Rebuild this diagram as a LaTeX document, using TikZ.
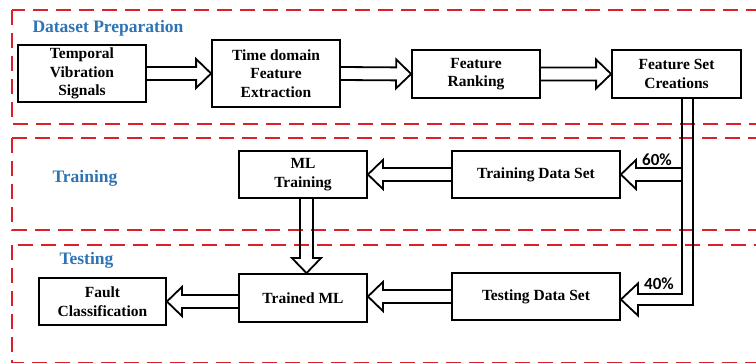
\documentclass[tikz,border=0pt]{standalone}
\usepackage{fontspec}
\setmainfont{Liberation Serif}
\newfontfamily\pctfont{Carlito}
\usetikzlibrary{calc}
\definecolor{framered}{RGB}{222,30,40}
\definecolor{secblue}{RGB}{46,116,181}
\tikzset{
  frame/.style={draw=framered, line width=2.5pt, dash pattern=on 15pt off 8pt},
  box/.style={draw, line width=1.8pt, align=center, inner sep=0pt,
    font=\fontsize{15.5}{18.5}\selectfont\bfseries},
  hollowarr/.style={draw, line width=1.8pt, line join=miter},
  sect/.style={anchor=west, text=secblue, font=\fontsize{17.5}{20}\selectfont\bfseries},
  pct/.style={font=\pctfont\fontsize{17}{18}\selectfont\bfseries}
}
\newcommand\hollow[2]{%
  \path let \p1=($(#2)-(#1)$), \n1={veclen(\x1,\y1)}, \n2={atan2(\y1,\x1)} in
    \pgfextra{\xdef\hlen{\n1}\xdef\hang{\n2}};
  \draw[hollowarr, shift={(#1)}, rotate=\hang]
    (0pt,6.5pt) -- ({\hlen-15pt},6.5pt) -- ({\hlen-15pt},14.5pt) -- ({\hlen},0pt)
    -- ({\hlen-15pt},-14.5pt) -- ({\hlen-15pt},-6.5pt) -- (0pt,-6.5pt);
}
\begin{document}
\begin{tikzpicture}[x=1pt,y=-1pt]
\useasboundingbox (0,0) rectangle (756,363);
\clip (0,0) rectangle (756,363);
% frames
\draw[frame] (12,10) rectangle (790,124);
\draw[frame] (12,138) rectangle (790,230);
\draw[frame] (12,245) rectangle (790,363);
% section labels
\node[sect] (s1) at (29,28) {Dataset Preparation};
\node[sect] (s2) at (49,178) {Training};
\node[sect] (s3) at (56,260) {Testing};
% boxes
\node[box, minimum width=128pt, minimum height=57pt] (tvs) at (82,73.5) {Temporal\\Vibration\\Signals};
\node[box, minimum width=128pt, minimum height=67pt] (tdf) at (276,73.5) {Time domain\\Feature\\Extraction};
\node[box, minimum width=128pt, minimum height=48pt] (fr) at (476,74) {Feature\\Ranking};
\node[box, minimum width=129pt, minimum height=48pt] (fsc) at (676.5,74) {Feature Set\\Creations};
\node[box, minimum width=168pt, minimum height=47pt] (tds) at (536,174.5) {Training Data Set};
\node[box, minimum width=128pt, minimum height=47pt] (mlt) at (303,174.5) {ML\\Training};
\node[box, minimum width=168pt, minimum height=47pt] (tsd) at (536,296.5) {Testing Data Set};
\node[box, minimum width=128pt, minimum height=48pt] (tml) at (303,298) {Trained ML};
\node[box, minimum width=127pt, minimum height=47pt] (fc) at (102.5,301.5) {Fault\\Classification};
% top row arrows
\hollow{tvs.east}{tdf.west}
\hollow{tdf.east}{fr.west}
\hollow{fr.east}{fsc.west}
% training / testing arrows
\hollow{tds.west}{mlt.east}
\coordinate (mlb) at ($(mlt.south)+(3.5,0)$);
\coordinate (tmt) at ($(tml.north)+(3.5,0)$);
\hollow{mlb}{tmt}
\coordinate (tsw) at (tsd.west);
\coordinate (tme) at (tml.east |- tsd.west);
\hollow{tsw}{tme}
\coordinate (tmw) at (tml.west |- fc.east);
\hollow{tmw}{fc.east}
% split pipe from feature set creations
\coordinate (pl) at ($(fsc.south)+(5.5,0)$);
\coordinate (pr) at ($(fsc.south)+(16.5,0)$);
\coordinate (t60) at (pl |- tds.east);
\hollow{t60}{tds.east}
\coordinate (tip40) at ($(tsd.east)+(0,3)$);
\draw[hollowarr] let \p1=(tip40), \p2=(pl), \p3=(pr) in
  (\p3) -- (\x3,\y1-5.5pt) -- (\x1+17pt,\y1-5.5pt) -- (\x1+17pt,\y1-16pt) -- (\p1)
  -- (\x1+17pt,\y1+16pt) -- (\x1+17pt,\y1+5.5pt) -- (\x2,\y1+5.5pt) -- (\p2);
% percentages
\node[pct] (p60) at (657,160) {60\%};
\node[pct] (p40) at (659,284) {40\%};
\end{tikzpicture}
\end{document}
